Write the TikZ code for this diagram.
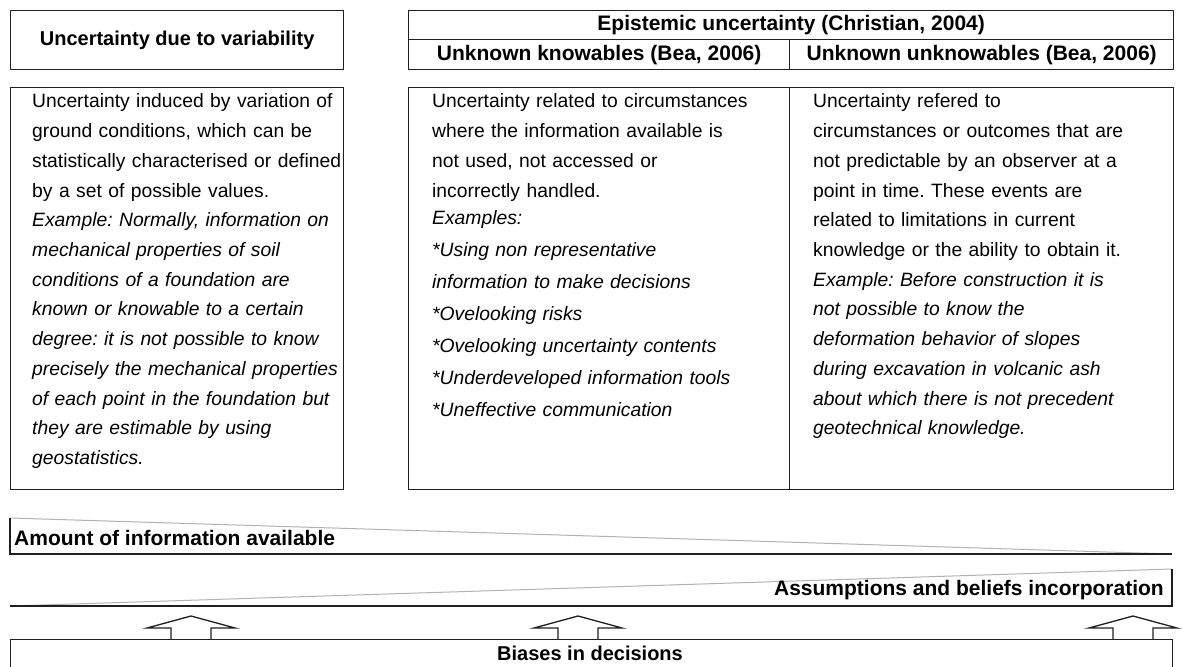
\documentclass[tikz,border=0pt]{standalone}
\usepackage{fontspec}
\setmainfont{Liberation Sans}
\begin{document}
\frenchspacing
\begin{tikzpicture}[x=1pt,y=-1pt,
  frame/.style={draw=black!88,line width=1.3pt},
  cell/.style={frame,inner sep=0pt,anchor=north west,font=\fontsize{20pt}{24pt}\selectfont\bfseries},
  widecell/.style={cell,font=\fontsize{21pt}{24pt}\selectfont\bfseries},
  body/.style={inner sep=0pt,anchor=base west,align=left,text width=370pt,font=\fontsize{19.3pt}{29.7pt}\selectfont},
  headtxt/.style={inner sep=0pt,font=\fontsize{20pt}{24pt}\selectfont\bfseries},
  wideheadtxt/.style={inner sep=0pt,font=\fontsize{21pt}{24pt}\selectfont\bfseries},
  slant/.style={draw=black!30,line width=1pt},
  blockarrow/.style={frame,fill=white,line join=miter}]
\clip (0,0) rectangle (1182,666);
\fill[white] (0,0) rectangle (1182,666);

% top row
\node[cell,minimum width=333pt,minimum height=59pt] (var) at (10,10) {Uncertainty due to variability};
\node[widecell,minimum width=765pt,minimum height=29pt] (epi) at (408,10) {Epistemic uncertainty (Christian, 2004)};
\node[widecell,minimum width=381pt,minimum height=30pt] (kn) at (408,39) {Unknown knowables (Bea, 2006)};
\node[widecell,minimum width=384pt,minimum height=30pt] (unk) at (789,39) {Unknown unknowables (Bea, 2006)};

% second row boxes
\node[cell,minimum width=333pt,minimum height=402pt] (varbox) at (10,87) {};
\node[cell,minimum width=381pt,minimum height=402pt] (knbox) at (408,87) {};
\node[cell,minimum width=384pt,minimum height=402pt] (unkbox) at (789,87) {};

\node[body] (vartext) at (32,108) {Uncertainty induced by variation of\\
ground conditions, which can be\\
statistically characterised or defined\\
by a set of possible values.\\
\textit{Example: Normally, information on}\\
\textit{mechanical properties of soil}\\
\textit{conditions of a foundation are}\\
\textit{known or knowable to a certain}\\
\textit{degree: it is not possible to know}\\
\textit{precisely the mechanical properties}\\
\textit{of each point in the foundation but}\\
\textit{they are estimable by using}\\
\textit{geostatistics.}};

\node[body] (kntext) at (432,108) {Uncertainty related to circumstances\\
where the information available is\\
not used, not accessed or\\
incorrectly handled.\\[-2.7pt]
\textit{Examples:}\\[2.3pt]
\textit{*Using non representative}\\[2.3pt]
\textit{information to make decisions}\\[2.3pt]
\textit{*Ovelooking risks}\\[2.3pt]
\textit{*Ovelooking uncertainty contents}\\[2.3pt]
\textit{*Underdeveloped information tools}\\[2.3pt]
\textit{*Uneffective communication}};

\node[body] (unktext) at (813,108) {Uncertainty refered to\\
circumstances or outcomes that are\\
not predictable by an observer at a\\
point in time. These events are\\
related to limitations in current\\
knowledge or the ability to obtain it.\\
\textit{Example: Before construction it is}\\
\textit{not possible to know the}\\
\textit{deformation behavior of slopes}\\
\textit{during excavation in volcanic ash}\\
\textit{about which there is not precedent}\\
\textit{geotechnical knowledge.}};

% wedge 1: amount of information
\coordinate (w1a) at (10,518);
\coordinate (w1b) at (10,554);
\coordinate (w1c) at (1172,554);
\draw[slant] (w1a) -- (w1c);
\draw[frame] (w1a) -- (w1b) -- (w1c);
\node[wideheadtxt,anchor=west] (amount) at (14,538) {Amount of information available};

% wedge 2: assumptions
\coordinate (w2a) at (10,606);
\coordinate (w2b) at (1172,606);
\coordinate (w2c) at (1172,569);
\draw[slant] (w2a) -- (w2c);
\draw[frame] (w2a) -- (w2b) -- (w2c);
\node[wideheadtxt,anchor=east] (assump) at (1164,590) {Assumptions and beliefs incorporation};

% block arrows
\foreach \cx/\nm in {191/arrA,578/arrB,1133/arrC}{
  \coordinate (\nm) at (\cx,639);
  \draw[blockarrow] (\nm) ++(-20,0) -- ++(0,-11) -- ++(-24,0) -- ++(44,-12) -- ++(44,12) -- ++(-24,0) -- ++(0,11);
}

% biases box
\node[cell,minimum width=1162pt,minimum height=60pt] (bias) at (10,639) {};
\node[headtxt] (biastext) at (590,653) {Biases in decisions};
\end{tikzpicture}
\end{document}
